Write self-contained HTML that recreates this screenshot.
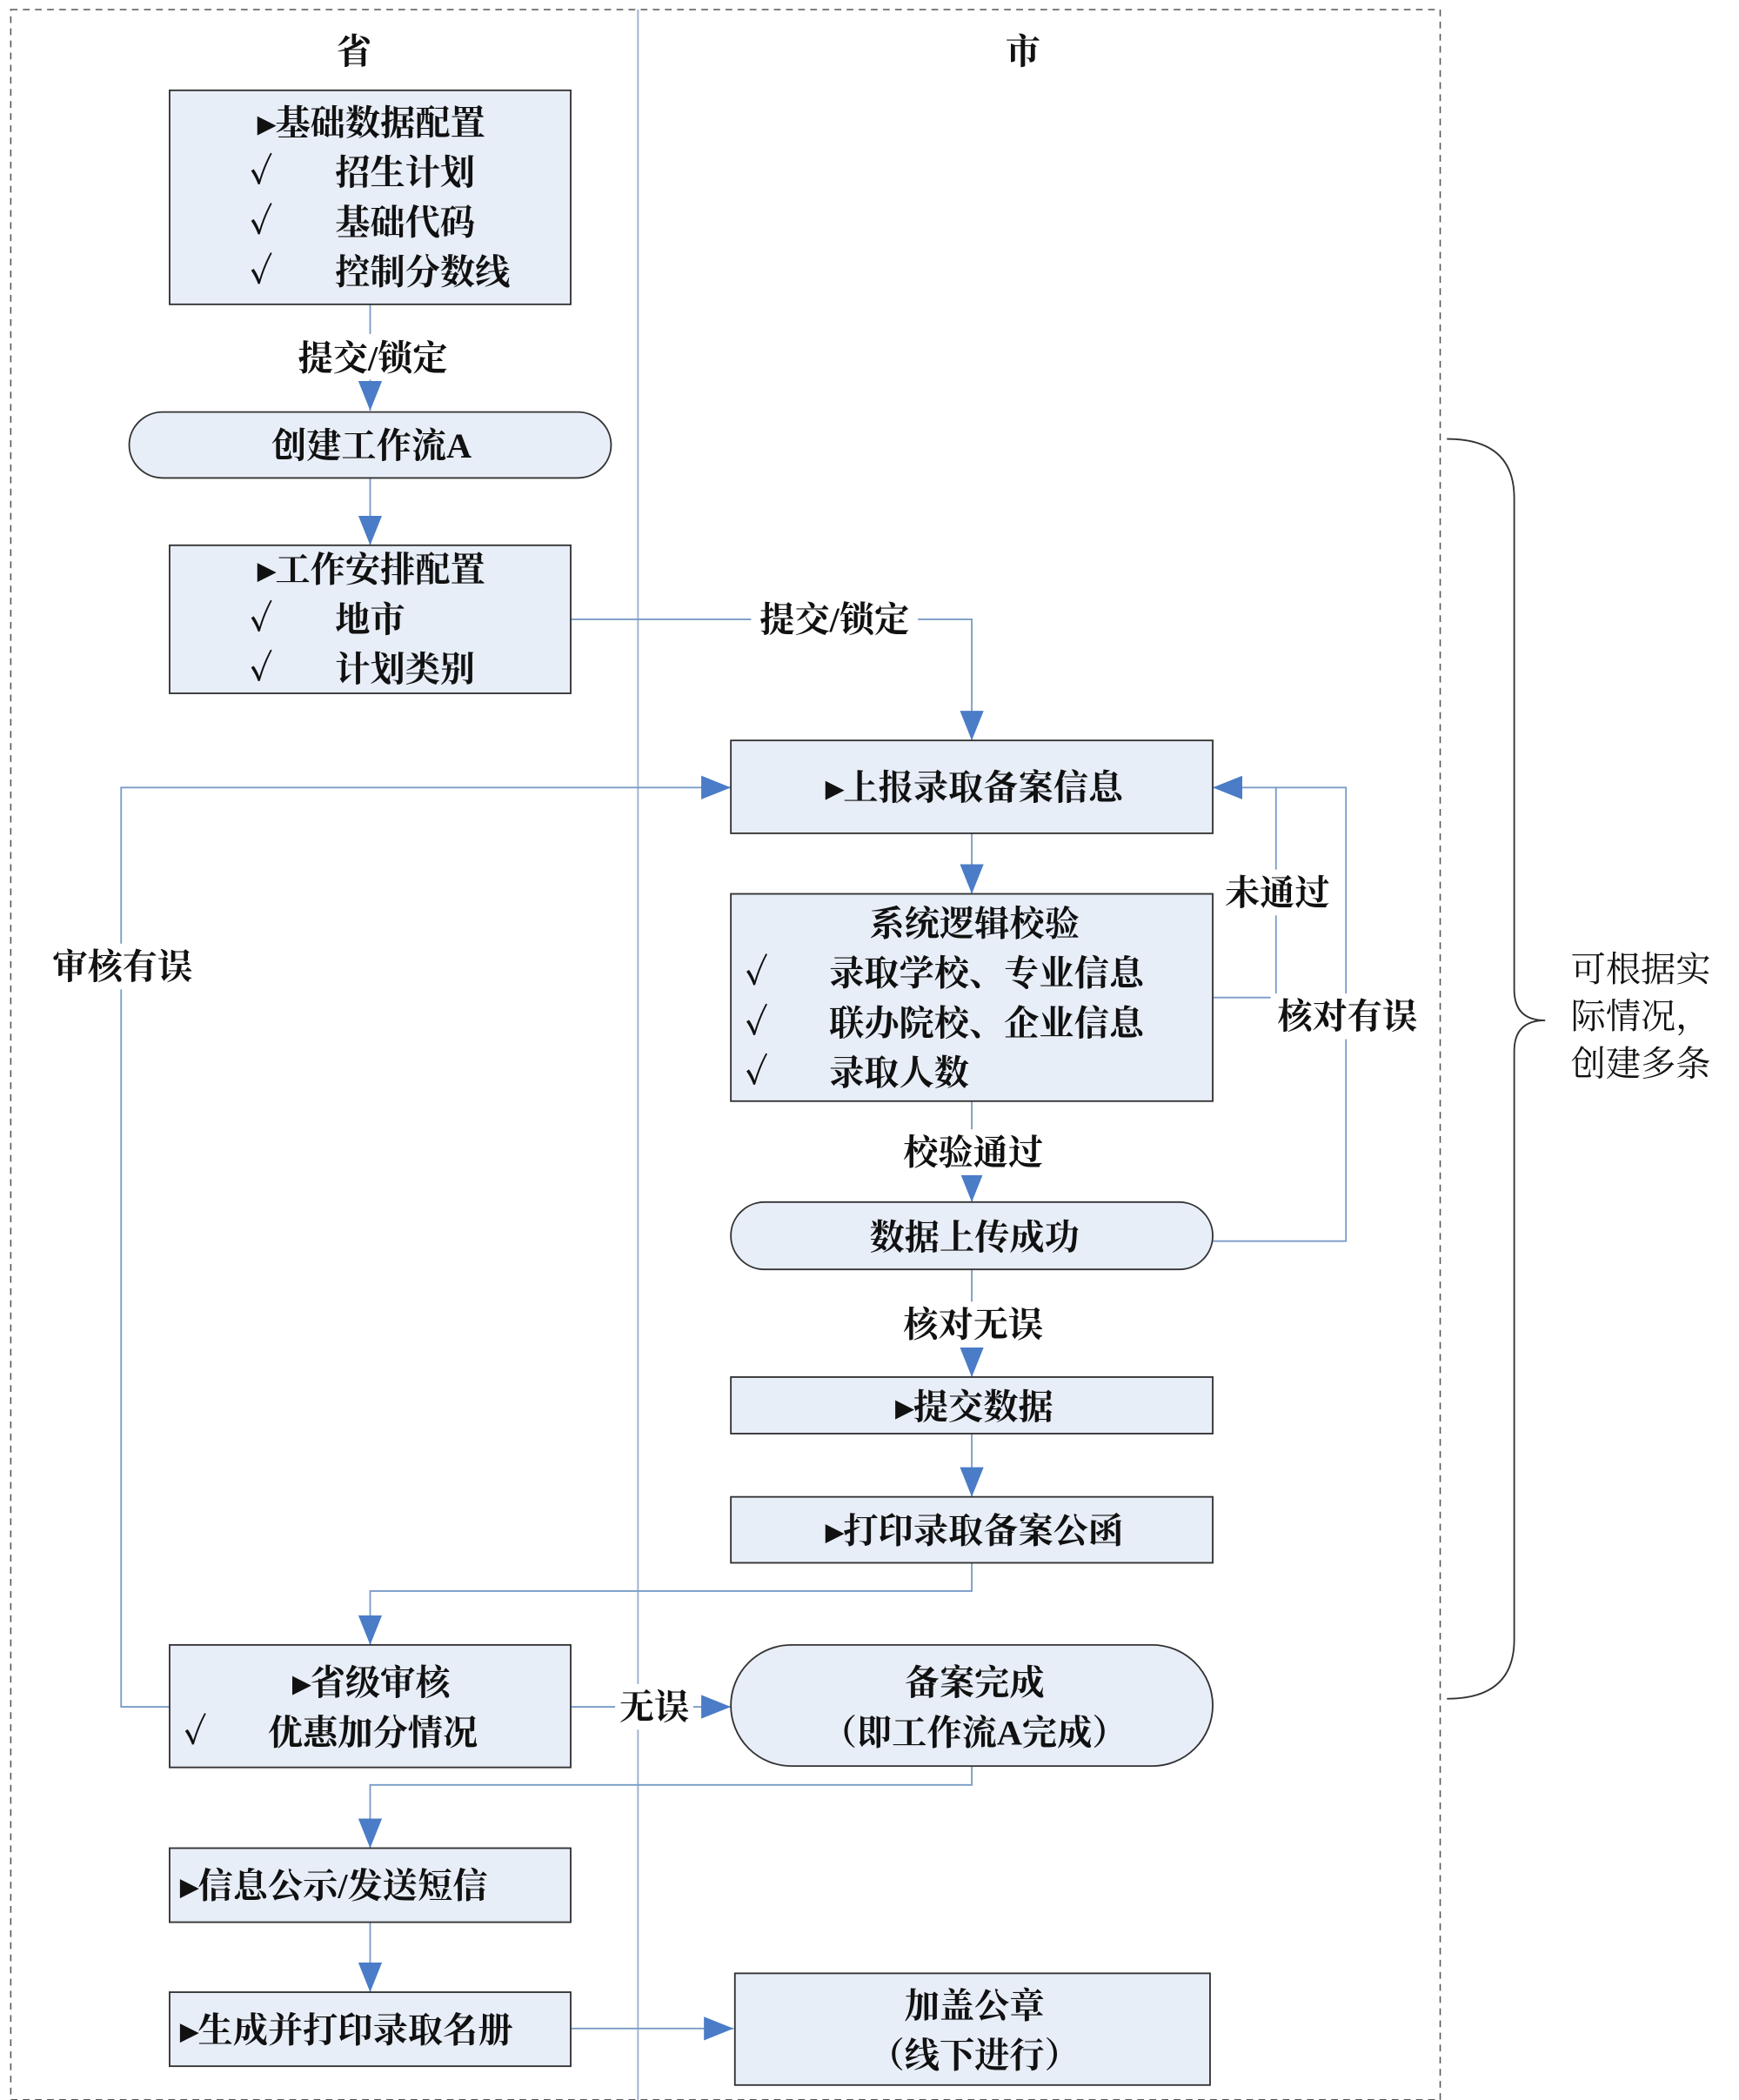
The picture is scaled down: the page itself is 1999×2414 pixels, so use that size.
<!DOCTYPE html>
<html><head><meta charset="utf-8"><style>
html,body{margin:0;padding:0;background:#fff;}
svg{display:block;}
text{font-family:"Liberation Serif","Noto Serif CJK SC",serif;font-size:26px;font-weight:bold;fill:#111;}
.n{font-weight:normal;}
.b{fill:#e8eef8;stroke:#333;stroke-width:1.2;}
.l{stroke:#7a9cc8;stroke-width:1.2;fill:none;}
</style></head><body>
<svg width="1999" height="2414" viewBox="0 0 1292 1560" xmlns="http://www.w3.org/2000/svg">
<defs>
<marker id="a" viewBox="0 0 10 10" refX="10" refY="5" markerWidth="22" markerHeight="22" markerUnits="userSpaceOnUse" orient="auto">
<path d="M0,1 L10,5 L0,9 z" fill="#4a7cc7"/></marker>
</defs>
<rect x="8" y="7" width="1062" height="1553" fill="none" stroke="#555" stroke-width="1" stroke-dasharray="5,4"/>
<line x1="474" y1="7" x2="474" y2="1560" stroke="#9aaecb" stroke-width="1.2"/>
<text x="263" y="47" text-anchor="middle">省</text>
<text x="760" y="47" text-anchor="middle">市</text>

<!-- connectors -->
<line class="l" x1="275" y1="226" x2="275" y2="305" marker-end="url(#a)"/>
<line class="l" x1="275" y1="355" x2="275" y2="405" marker-end="url(#a)"/>
<polyline class="l" points="424,460 722,460 722,550" marker-end="url(#a)"/>
<line class="l" x1="722" y1="619" x2="722" y2="664" marker-end="url(#a)"/>
<polyline class="l" points="901,741 948,741 948,585 901,585" marker-end="url(#a)"/>
<polyline class="l" points="901,922 1000,922 1000,585 948,585"/>
<line class="l" x1="722" y1="818" x2="722" y2="893" marker-end="url(#a)"/>
<line class="l" x1="722" y1="943" x2="722" y2="1023" marker-end="url(#a)"/>
<line class="l" x1="722" y1="1065" x2="722" y2="1112" marker-end="url(#a)"/>
<polyline class="l" points="722,1161 722,1182 275,1182 275,1222" marker-end="url(#a)"/>
<polyline class="l" points="126,1268 90,1268 90,585 543,585" marker-end="url(#a)"/>
<line class="l" x1="424" y1="1268" x2="543" y2="1268" marker-end="url(#a)"/>
<polyline class="l" points="722,1312 722,1326 275,1326 275,1373" marker-end="url(#a)"/>
<line class="l" x1="275" y1="1428" x2="275" y2="1480" marker-end="url(#a)"/>
<line class="l" x1="424" y1="1507" x2="545" y2="1507" marker-end="url(#a)"/>

<!-- labels on lines -->
<rect x="215" y="248" width="124" height="34" fill="#fff"/><text x="277" y="275" text-anchor="middle">提交/锁定</text>
<rect x="558" y="443" width="124" height="34" fill="#fff"/><text x="620" y="469" text-anchor="middle">提交/锁定</text>
<rect x="906" y="646" width="86" height="34" fill="#fff"/><text x="949" y="672" text-anchor="middle">未通过</text>
<rect x="944" y="738" width="114" height="34" fill="#fff"/><text x="1001" y="764" text-anchor="middle">核对有误</text>
<rect x="666" y="839" width="114" height="34" fill="#fff"/><text x="723" y="865" text-anchor="middle">校验通过</text>
<rect x="666" y="967" width="114" height="34" fill="#fff"/><text x="723" y="993" text-anchor="middle">核对无误</text>
<rect x="34" y="701" width="114" height="34" fill="#fff"/><text x="91" y="727" text-anchor="middle">审核有误</text>
<rect x="457" y="1251" width="58" height="34" fill="#fff"/><text x="486" y="1277" text-anchor="middle">无误</text>

<!-- boxes -->
<rect class="b" x="126" y="67" width="298" height="159"/>
<text x="276" y="100" text-anchor="middle">▸基础数据配置</text>
<text x="185" y="137">✓</text><text x="249" y="137">招生计划</text>
<text x="185" y="174">✓</text><text x="249" y="174">基础代码</text>
<text x="185" y="211">✓</text><text x="249" y="211">控制分数线</text>

<rect class="b" x="96" y="306" width="358" height="49" rx="25"/>
<text x="276" y="340" text-anchor="middle">创建工作流A</text>

<rect class="b" x="126" y="405" width="298" height="110"/>
<text x="276" y="432" text-anchor="middle">▸工作安排配置</text>
<text x="185" y="469">✓</text><text x="249" y="469">地市</text>
<text x="185" y="506">✓</text><text x="249" y="506">计划类别</text>

<rect class="b" x="543" y="550" width="358" height="69"/>
<text x="724" y="594" text-anchor="middle">▸上报录取备案信息</text>

<rect class="b" x="543" y="664" width="358" height="154"/>
<text x="724" y="695" text-anchor="middle">系统逻辑校验</text>
<text x="553" y="732">✓</text><text x="616" y="732">录取学校、专业信息</text>
<text x="553" y="769">✓</text><text x="616" y="769">联办院校、企业信息</text>
<text x="553" y="806">✓</text><text x="616" y="806">录取人数</text>

<rect class="b" x="543" y="893" width="358" height="50" rx="25"/>
<text x="724" y="928" text-anchor="middle">数据上传成功</text>

<rect class="b" x="543" y="1023" width="358" height="42"/>
<text x="724" y="1054" text-anchor="middle">▸提交数据</text>

<rect class="b" x="543" y="1112" width="358" height="49"/>
<text x="724" y="1146" text-anchor="middle">▸打印录取备案公函</text>

<rect class="b" x="126" y="1222" width="298" height="91"/>
<text x="276" y="1259" text-anchor="middle">▸省级审核</text>
<text x="136" y="1296">✓</text><text x="199" y="1296">优惠加分情况</text>

<rect class="b" x="543" y="1222" width="358" height="90" rx="45"/>
<text x="724" y="1259" text-anchor="middle">备案完成</text>
<text x="724" y="1296" text-anchor="middle">（即工作流A完成）</text>

<rect class="b" x="126" y="1373" width="298" height="55"/>
<text x="134" y="1410">▸信息公示/发送短信</text>

<rect class="b" x="126" y="1480" width="298" height="55"/>
<text x="134" y="1517">▸生成并打印录取名册</text>

<rect class="b" x="546" y="1466" width="353" height="83"/>
<text x="724" y="1499" text-anchor="middle">加盖公章</text>
<text x="724" y="1536" text-anchor="middle">（线下进行）</text>

<!-- brace -->
<path d="M1075,326 Q1125,326 1125,370 L1125,735 Q1125,758 1148,758 Q1125,758 1125,781 L1125,1218 Q1125,1262 1075,1262" fill="none" stroke="#333" stroke-width="1.2"/>
<text class="n" x="1167" y="729">可根据实</text>
<text class="n" x="1167" y="764">际情况，</text>
<text class="n" x="1167" y="799">创建多条</text>
</svg>
</body></html>
